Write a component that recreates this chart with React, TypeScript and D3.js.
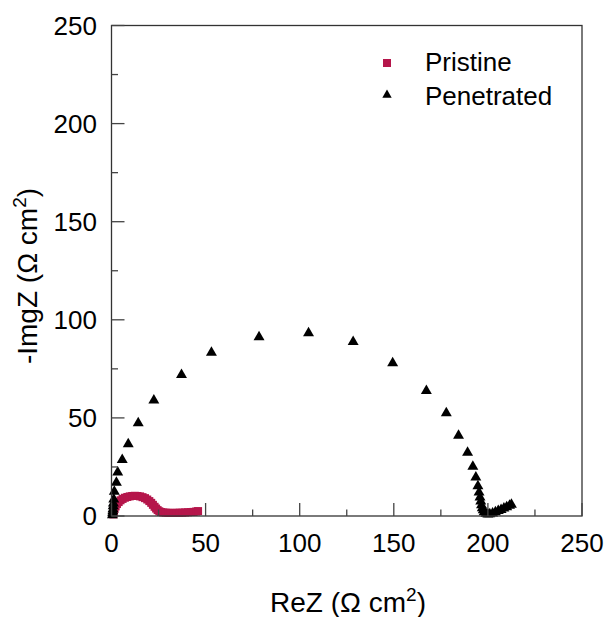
import React from "react";
import * as d3 from "d3";

const xTicks = [0, 50, 100, 150, 200, 250];
const yTicks = [0, 50, 100, 150, 200, 250];
const minorTicks = [25, 75, 125, 175, 225];

const pristineX = [1.0, 1.2, 1.6, 2.2, 2.9, 3.8, 4.8, 5.9, 7.1, 8.4, 9.7, 11.0, 12.4, 13.8, 15.2, 16.5, 17.8, 19.0, 20.1, 21.1, 22.0, 22.9, 23.7, 24.5, 25.4, 26.4, 27.5, 28.8, 30.2, 31.6, 33.1, 34.6, 36.1, 37.6, 39.1, 40.6, 42.1, 43.6, 45.0, 46.0];
const pristineY = [0.8, 2.2, 3.6, 4.9, 6.1, 7.1, 8.0, 8.7, 9.3, 9.7, 10.0, 10.2, 10.3, 10.2, 10.0, 9.6, 9.1, 8.4, 7.6, 6.7, 5.7, 4.7, 3.8, 3.0, 2.4, 2.0, 1.8, 1.7, 1.6, 1.6, 1.6, 1.6, 1.7, 1.7, 1.8, 1.9, 2.0, 2.1, 2.3, 2.5];

const penetratedX = [0.5, 0.6, 0.7, 0.8, 0.9, 1.0, 1.2, 1.5, 2.6, 3.3, 5.7, 8.9, 14.2, 22.5, 37.2, 53.1, 78.4, 104.7, 128.4, 149.4, 167.3, 177.9, 184.4, 189.2, 192.0, 193.6, 194.7, 195.3, 195.8, 196.2, 196.6, 197.0, 197.5, 198.0, 199.0, 200.0, 201.0, 202.5, 204.0, 205.5, 207.0, 208.5, 210.0, 211.5, 212.5];
const penetratedY = [0.5, 1.5, 2.5, 3.5, 5.0, 6.5, 8.5, 12.4, 17.0, 22.3, 28.6, 36.7, 47.3, 59.0, 72.0, 83.3, 91.2, 93.2, 88.8, 77.9, 63.8, 52.4, 41.0, 32.3, 25.2, 19.7, 15.3, 12.0, 9.5, 7.5, 5.5, 4.0, 3.0, 2.0, 1.2, 0.8, 1.0, 1.4, 2.0, 2.6, 3.2, 3.9, 4.6, 5.3, 5.8];

const seriesNames = ["Pristine", "Penetrated"];
const pristineColor = "#b5164b";

const W = 607;
const H = 617;
const left = 111.5;
const right = 582;
const top = 25.5;
const bottom = 516;
const font = "'Liberation Sans', Arial, sans-serif";

export default function App() {
  const x = d3.scaleLinear().domain([0, 250]).range([left, right]);
  const y = d3.scaleLinear().domain([0, 250]).range([bottom, top]);
  const sq = 8;
  const tri = d3.symbol().type(d3.symbolTriangle).size(52);
  const triLegend = d3.symbol().type(d3.symbolTriangle).size(38);

  return (
    <svg width={W} height={H} style={{ position: "absolute", left: 0, top: 0, background: "#fff" }}>
      <rect x={0} y={0} width={W} height={H} fill="#fff" />
      {/* data */}
      <g>
        {pristineX.map((v, i) => (
          <rect key={"p" + i} x={x(v) - sq / 2} y={y(pristineY[i]) - sq / 2} width={sq} height={sq} fill={pristineColor} />
        ))}
      </g>
      <g>
        {penetratedX.map((v, i) => (
          <path key={"t" + i} d={tri() as string} transform={`translate(${x(v)},${y(penetratedY[i])})`} fill="#000" />
        ))}
      </g>
      {/* frame */}
      <rect x={left} y={top} width={right - left} height={bottom - top} fill="none" stroke="#333" strokeWidth={1.3} />
      {/* x ticks */}
      {xTicks.map((t) => (
        <g key={"xt" + t}>
          <line x1={x(t)} x2={x(t)} y1={bottom} y2={bottom - 13} stroke="#444" strokeWidth={1.3} />
          <text x={x(t)} y={552} textAnchor="middle" fontFamily={font} fontSize={26} fill="#000">{t}</text>
        </g>
      ))}
      {minorTicks.map((t) => (
        <line key={"xm" + t} x1={x(t)} x2={x(t)} y1={bottom} y2={bottom - 6.5} stroke="#444" strokeWidth={1.3} />
      ))}
      {/* y ticks */}
      {yTicks.map((t) => (
        <g key={"yt" + t}>
          <line x1={left} x2={left + 13} y1={y(t)} y2={y(t)} stroke="#444" strokeWidth={1.3} />
          <text x={97} y={y(t) + 9.3} textAnchor="end" fontFamily={font} fontSize={26} fill="#000">{t}</text>
        </g>
      ))}
      {minorTicks.map((t) => (
        <line key={"ym" + t} x1={left} x2={left + 6.5} y1={y(t)} y2={y(t)} stroke="#444" strokeWidth={1.3} />
      ))}
      {/* axis titles */}
      <text x={348} y={612} textAnchor="middle" fontFamily={font} fontSize={28} fill="#000">
        ReZ (Ω cm<tspan dy={-11} fontSize={19}>2</tspan><tspan dy={11}>)</tspan>
      </text>
      <text transform={`translate(37,276) rotate(-90)`} textAnchor="middle" fontFamily={font} fontSize={28} fill="#000">
        -ImgZ (Ω cm<tspan dy={-11} fontSize={19}>2</tspan><tspan dy={11}>)</tspan>
      </text>
      {/* legend */}
      <rect x={387 - 4} y={63 - 4} width={8} height={8} fill={pristineColor} />
      <text x={425} y={71} fontFamily={font} fontSize={26} fill="#000">{seriesNames[0]}</text>
      <path d={triLegend() as string} transform="translate(387,95)" fill="#000" />
      <text x={425} y={105} fontFamily={font} fontSize={26} fill="#000">{seriesNames[1]}</text>
    </svg>
  );
}
